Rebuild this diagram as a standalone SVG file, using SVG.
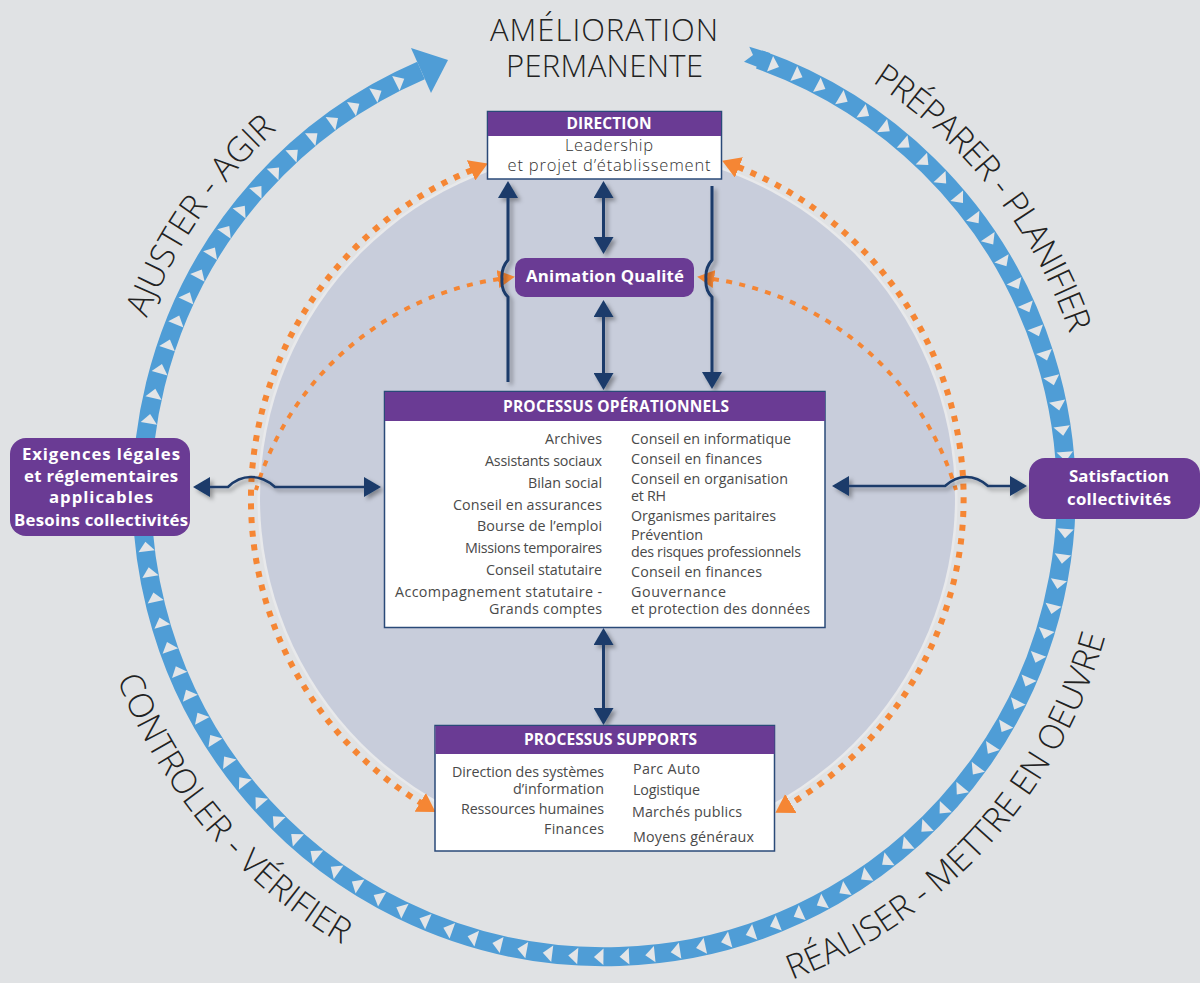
<svg xmlns="http://www.w3.org/2000/svg" xmlns:xlink="http://www.w3.org/1999/xlink" width="1200" height="983" viewBox="0 0 1200 983">
<style>
.t{font-family:"Open Sans","Liberation Sans",sans-serif;font-size:14.3px;fill:#4a4a4a}
.h{font-family:"Open Sans","Liberation Sans",sans-serif;font-size:15.5px;font-weight:700;fill:#fff}
.n{font-family:"Open Sans","Liberation Sans",sans-serif;font-size:16.8px;font-weight:700;fill:#fff}
.d{font-family:"Open Sans","Liberation Sans",sans-serif;font-size:16.5px;font-weight:300;fill:#333}
.r{font-family:"Open Sans","Lato",sans-serif;font-size:34px;fill:#222;font-weight:300}
.ti{font-family:"Open Sans","Lato",sans-serif;font-size:31px;fill:#222;font-weight:300}
.box{fill:#fff;stroke:#2a4a78;stroke-width:1.5}
.head{fill:#6a3b94}
.pill{fill:#6a3b94}
.link{fill:none;stroke:#1a3b6b;stroke-width:3}
.thin{fill:none;stroke:#1a3b6b;stroke-width:2.5}
.o1{fill:none;stroke:#f58634;stroke-width:6;stroke-dasharray:6 7.7}
.o2{fill:none;stroke:#f58634;stroke-width:4;stroke-dasharray:6 7.4}
</style>
<defs>
<filter id="sh" x="-30%" y="-30%" width="170%" height="170%"><feDropShadow dx="3" dy="3" stdDeviation="2" flood-color="#000" flood-opacity="0.35"/></filter>
<marker id="ah" viewBox="0 0 17 20" markerUnits="userSpaceOnUse" markerWidth="17" markerHeight="20" refX="1" refY="10" orient="auto-start-reverse"><path d="M0 0L17 10L0 20Z" fill="#1a3b6b"/></marker>
<marker id="oh" viewBox="0 0 18 22" markerUnits="userSpaceOnUse" markerWidth="18" markerHeight="22" refX="1" refY="11" orient="auto-start-reverse"><path d="M0 0L18 11L0 22Z" fill="#f58634"/></marker>
<marker id="os" viewBox="0 0 17 18" markerUnits="userSpaceOnUse" markerWidth="17" markerHeight="18" refX="1" refY="9" orient="auto-start-reverse"><path d="M0 0L17 9L0 18Z" fill="#f58634"/></marker>
<path id="tri" d="M-4.5 25L-4.5 41.5L5 33Z" fill="#e3e5e7"/>
<path id="pp" d="M872 82A492 492 0 0 1 1089.5 409.6"/>
<path id="pa" d="M147 318A491 491 0 0 1 359 70"/>
<path id="pc" d="M117 679A520 520 0 0 0 427 984"/>
<path id="pr" d="M792 980A520 520 0 0 0 1117 585"/>
</defs>
<rect width="1200" height="983" fill="#e0e2e4"/>
<circle cx="607.5" cy="498" r="350" fill="#e8e9eb"/>
<circle cx="607.5" cy="498" r="347.5" fill="#c8cddb"/>
<g id="ring">
<path d="M759.2 59.5A462 462 0 1 1 421 70.5" fill="none" stroke="#4f9dd6" stroke-width="19"/>
<polygon points="749.3,46.7 770,53 768,71 744,61.7 753,55" fill="#4f9dd6"/>
<polygon points="411,48 448,60 431,93" fill="#4f9dd6"/>
<use href="#tri" x="605" transform="rotate(21.5 605 495)"/><use href="#tri" x="605" transform="rotate(24.69 605 495)"/><use href="#tri" x="605" transform="rotate(27.87 605 495)"/><use href="#tri" x="605" transform="rotate(31.06 605 495)"/><use href="#tri" x="605" transform="rotate(34.24 605 495)"/><use href="#tri" x="605" transform="rotate(37.43 605 495)"/><use href="#tri" x="605" transform="rotate(40.61 605 495)"/><use href="#tri" x="605" transform="rotate(43.8 605 495)"/><use href="#tri" x="605" transform="rotate(46.98 605 495)"/><use href="#tri" x="605" transform="rotate(50.17 605 495)"/><use href="#tri" x="605" transform="rotate(53.35 605 495)"/><use href="#tri" x="605" transform="rotate(56.54 605 495)"/><use href="#tri" x="605" transform="rotate(59.72 605 495)"/><use href="#tri" x="605" transform="rotate(62.91 605 495)"/><use href="#tri" x="605" transform="rotate(66.09 605 495)"/><use href="#tri" x="605" transform="rotate(69.28 605 495)"/><use href="#tri" x="605" transform="rotate(72.46 605 495)"/><use href="#tri" x="605" transform="rotate(75.65 605 495)"/><use href="#tri" x="605" transform="rotate(78.83 605 495)"/><use href="#tri" x="605" transform="rotate(82.02 605 495)"/><use href="#tri" x="605" transform="rotate(85.2 605 495)"/><use href="#tri" x="605" transform="rotate(88.39 605 495)"/><use href="#tri" x="605" transform="rotate(91.57 605 495)"/><use href="#tri" x="605" transform="rotate(94.76 605 495)"/><use href="#tri" x="605" transform="rotate(97.94 605 495)"/><use href="#tri" x="605" transform="rotate(101.13 605 495)"/><use href="#tri" x="605" transform="rotate(104.31 605 495)"/><use href="#tri" x="605" transform="rotate(107.5 605 495)"/><use href="#tri" x="605" transform="rotate(110.68 605 495)"/><use href="#tri" x="605" transform="rotate(113.87 605 495)"/><use href="#tri" x="605" transform="rotate(117.05 605 495)"/><use href="#tri" x="605" transform="rotate(120.24 605 495)"/><use href="#tri" x="605" transform="rotate(123.42 605 495)"/><use href="#tri" x="605" transform="rotate(126.61 605 495)"/><use href="#tri" x="605" transform="rotate(129.79 605 495)"/><use href="#tri" x="605" transform="rotate(132.98 605 495)"/><use href="#tri" x="605" transform="rotate(136.16 605 495)"/><use href="#tri" x="605" transform="rotate(139.35 605 495)"/><use href="#tri" x="605" transform="rotate(142.53 605 495)"/><use href="#tri" x="605" transform="rotate(145.72 605 495)"/><use href="#tri" x="605" transform="rotate(148.9 605 495)"/><use href="#tri" x="605" transform="rotate(152.09 605 495)"/><use href="#tri" x="605" transform="rotate(155.27 605 495)"/><use href="#tri" x="605" transform="rotate(158.46 605 495)"/><use href="#tri" x="605" transform="rotate(161.64 605 495)"/><use href="#tri" x="605" transform="rotate(164.83 605 495)"/><use href="#tri" x="605" transform="rotate(168.01 605 495)"/><use href="#tri" x="605" transform="rotate(171.2 605 495)"/><use href="#tri" x="605" transform="rotate(174.38 605 495)"/><use href="#tri" x="605" transform="rotate(177.57 605 495)"/><use href="#tri" x="605" transform="rotate(180.75 605 495)"/><use href="#tri" x="605" transform="rotate(183.94 605 495)"/><use href="#tri" x="605" transform="rotate(187.12 605 495)"/><use href="#tri" x="605" transform="rotate(190.31 605 495)"/><use href="#tri" x="605" transform="rotate(193.49 605 495)"/><use href="#tri" x="605" transform="rotate(196.68 605 495)"/><use href="#tri" x="605" transform="rotate(199.86 605 495)"/><use href="#tri" x="605" transform="rotate(203.05 605 495)"/><use href="#tri" x="605" transform="rotate(206.23 605 495)"/><use href="#tri" x="605" transform="rotate(209.42 605 495)"/><use href="#tri" x="605" transform="rotate(212.6 605 495)"/><use href="#tri" x="605" transform="rotate(215.79 605 495)"/><use href="#tri" x="605" transform="rotate(218.97 605 495)"/><use href="#tri" x="605" transform="rotate(222.16 605 495)"/><use href="#tri" x="605" transform="rotate(225.34 605 495)"/><use href="#tri" x="605" transform="rotate(228.53 605 495)"/><use href="#tri" x="605" transform="rotate(231.71 605 495)"/><use href="#tri" x="605" transform="rotate(234.9 605 495)"/><use href="#tri" x="605" transform="rotate(238.08 605 495)"/><use href="#tri" x="605" transform="rotate(241.27 605 495)"/><use href="#tri" x="605" transform="rotate(244.45 605 495)"/><use href="#tri" x="605" transform="rotate(247.64 605 495)"/><use href="#tri" x="605" transform="rotate(250.82 605 495)"/><use href="#tri" x="605" transform="rotate(254.01 605 495)"/><use href="#tri" x="605" transform="rotate(257.19 605 495)"/><use href="#tri" x="605" transform="rotate(260.38 605 495)"/><use href="#tri" x="605" transform="rotate(263.56 605 495)"/><use href="#tri" x="605" transform="rotate(266.75 605 495)"/><use href="#tri" x="605" transform="rotate(269.93 605 495)"/><use href="#tri" x="605" transform="rotate(273.12 605 495)"/><use href="#tri" x="605" transform="rotate(276.3 605 495)"/><use href="#tri" x="605" transform="rotate(279.49 605 495)"/><use href="#tri" x="605" transform="rotate(282.67 605 495)"/><use href="#tri" x="605" transform="rotate(285.86 605 495)"/><use href="#tri" x="605" transform="rotate(289.04 605 495)"/><use href="#tri" x="605" transform="rotate(292.23 605 495)"/><use href="#tri" x="605" transform="rotate(295.41 605 495)"/><use href="#tri" x="605" transform="rotate(298.6 605 495)"/><use href="#tri" x="605" transform="rotate(301.78 605 495)"/><use href="#tri" x="605" transform="rotate(304.97 605 495)"/><use href="#tri" x="605" transform="rotate(308.15 605 495)"/><use href="#tri" x="605" transform="rotate(311.34 605 495)"/><use href="#tri" x="605" transform="rotate(314.52 605 495)"/><use href="#tri" x="605" transform="rotate(317.71 605 495)"/><use href="#tri" x="605" transform="rotate(320.89 605 495)"/><use href="#tri" x="605" transform="rotate(324.08 605 495)"/><use href="#tri" x="605" transform="rotate(327.26 605 495)"/><use href="#tri" x="605" transform="rotate(330.45 605 495)"/><use href="#tri" x="605" transform="rotate(333.63 605 495)"/>
</g>
<g id="labels">
<text class="ti" x="490" y="41" textLength="228">AMÉLIORATION</text>
<text class="ti" x="506" y="77" textLength="197">PERMANENTE</text>
<text class="r"><textPath href="#pp" textLength="326">PRÉPARER - PLANIFIER</textPath></text>
<text class="r"><textPath href="#pa" textLength="231">AJUSTER - AGIR</textPath></text>
<text class="r"><textPath href="#pc" textLength="355">CONTROLER - VÉRIFIER</textPath></text>
<text class="r"><textPath href="#pr" textLength="482">RÉALISER - METTRE EN OEUVRE</textPath></text>
</g>
<g id="connectors">
<path class="o1" d="M472 170A356 356 0 0 0 421 803" marker-start="url(#oh)" marker-end="url(#oh)"/>
<path class="o1" d="M738 167A356 356 0 0 1 790 804" marker-start="url(#oh)" marker-end="url(#oh)"/>
<path class="o2" d="M499 279A300 300 0 0 0 256 490" marker-start="url(#os)"/>
<path class="o2" d="M713 279A300 300 0 0 1 956 490" marker-start="url(#os)"/>
<g filter="url(#sh)">
<path class="link" d="M508 382V297Q501 290 502 279Q501 268 508 260V197" marker-end="url(#ah)"/>
<path class="link" d="M712 186V260Q705 268 706 279Q705 290 712 297V373" marker-end="url(#ah)"/>
<path class="link" d="M603.5 197V238" marker-start="url(#ah)" marker-end="url(#ah)"/>
<path class="link" d="M603.5 316V374" marker-start="url(#ah)" marker-end="url(#ah)"/>
<path class="link" d="M603.5 644V709" marker-start="url(#ah)" marker-end="url(#ah)"/>
<path class="thin" d="M209 487H228Q238 477 251 477Q264 477 275 487H365" marker-start="url(#ah)" marker-end="url(#ah)"/>
<path class="thin" d="M848 486H945Q955 477 966 477Q978 477 988 486H1011" marker-start="url(#ah)" marker-end="url(#ah)"/>
</g>
</g>
<g id="direction">
<rect class="box" x="487.5" y="111.5" width="234" height="67.5"/>
<rect class="head" x="488" y="112" width="233" height="24"/>
<text class="h" x="566.5" y="129" textLength="85">DIRECTION</text>
<text class="d" x="565" y="151" textLength="88">Leadership</text>
<text class="d" x="507.5" y="171" textLength="203">et projet d’établissement</text>
</g>
<g id="animation-qualite">
<rect class="pill" x="515" y="258" width="179" height="39" rx="10"/>
<text class="n" x="526" y="282" textLength="158">Animation Qualité</text>
</g>
<g id="processus-operationnels">
<rect class="box" x="384.5" y="391.5" width="440.5" height="236"/>
<rect class="head" x="385" y="392" width="440" height="29"/>
<text class="h" x="503" y="412" textLength="226">PROCESSUS OPÉRATIONNELS</text>
<text class="t" x="545" y="444" textLength="57">Archives</text>
<text class="t" x="485" y="466" textLength="117">Assistants sociaux</text>
<text class="t" x="528" y="488" textLength="74">Bilan social</text>
<text class="t" x="453" y="510" textLength="149">Conseil en assurances</text>
<text class="t" x="477" y="531" textLength="125">Bourse de l’emploi</text>
<text class="t" x="465" y="553" textLength="137">Missions temporaires</text>
<text class="t" x="486" y="575" textLength="116">Conseil statutaire</text>
<text class="t" x="395" y="597" textLength="207">Accompagnement statutaire -</text>
<text class="t" x="489" y="614" textLength="113">Grands comptes</text>
<text class="t" x="631" y="444" textLength="160">Conseil en informatique</text>
<text class="t" x="631" y="464" textLength="131">Conseil en finances</text>
<text class="t" x="631" y="484" textLength="157">Conseil en organisation</text>
<text class="t" x="631" y="501" textLength="35">et RH</text>
<text class="t" x="631" y="521" textLength="145">Organismes paritaires</text>
<text class="t" x="631" y="540" textLength="72">Prévention</text>
<text class="t" x="631" y="557" textLength="170">des risques professionnels</text>
<text class="t" x="631" y="577" textLength="131">Conseil en finances</text>
<text class="t" x="631" y="597" textLength="95">Gouvernance</text>
<text class="t" x="631" y="614" textLength="179">et protection des données</text>
</g>
<g id="processus-supports">
<rect class="box" x="435" y="725.5" width="339.5" height="125.5"/>
<rect class="head" x="435.5" y="726" width="339" height="28"/>
<text class="h" x="524" y="745" textLength="173">PROCESSUS SUPPORTS</text>
<text class="t" x="452" y="777" textLength="152">Direction des systèmes</text>
<text class="t" x="513" y="794" textLength="91">d’information</text>
<text class="t" x="461" y="814" textLength="143">Ressources humaines</text>
<text class="t" x="544" y="834" textLength="60">Finances</text>
<text class="t" x="633" y="774" textLength="67">Parc Auto</text>
<text class="t" x="633" y="795" textLength="67">Logistique</text>
<text class="t" x="632" y="817" textLength="110">Marchés publics</text>
<text class="t" x="633" y="842" textLength="121">Moyens généraux</text>
</g>
<g id="exigences">
<rect class="pill" x="10" y="438" width="180" height="98" rx="16"/>
<text class="n" x="22" y="460" textLength="158">Exigences légales</text>
<text class="n" x="24" y="482" textLength="154">et réglementaires</text>
<text class="n" x="49" y="503" textLength="104">applicables</text>
<text class="n" x="14" y="526" textLength="174">Besoins collectivités</text>
</g>
<g id="satisfaction">
<rect class="pill" x="1029" y="458" width="171" height="61" rx="16"/>
<text class="n" x="1069" y="482" textLength="100">Satisfaction</text>
<text class="n" x="1067" y="505" textLength="104">collectivités</text>
</g>
</svg>
